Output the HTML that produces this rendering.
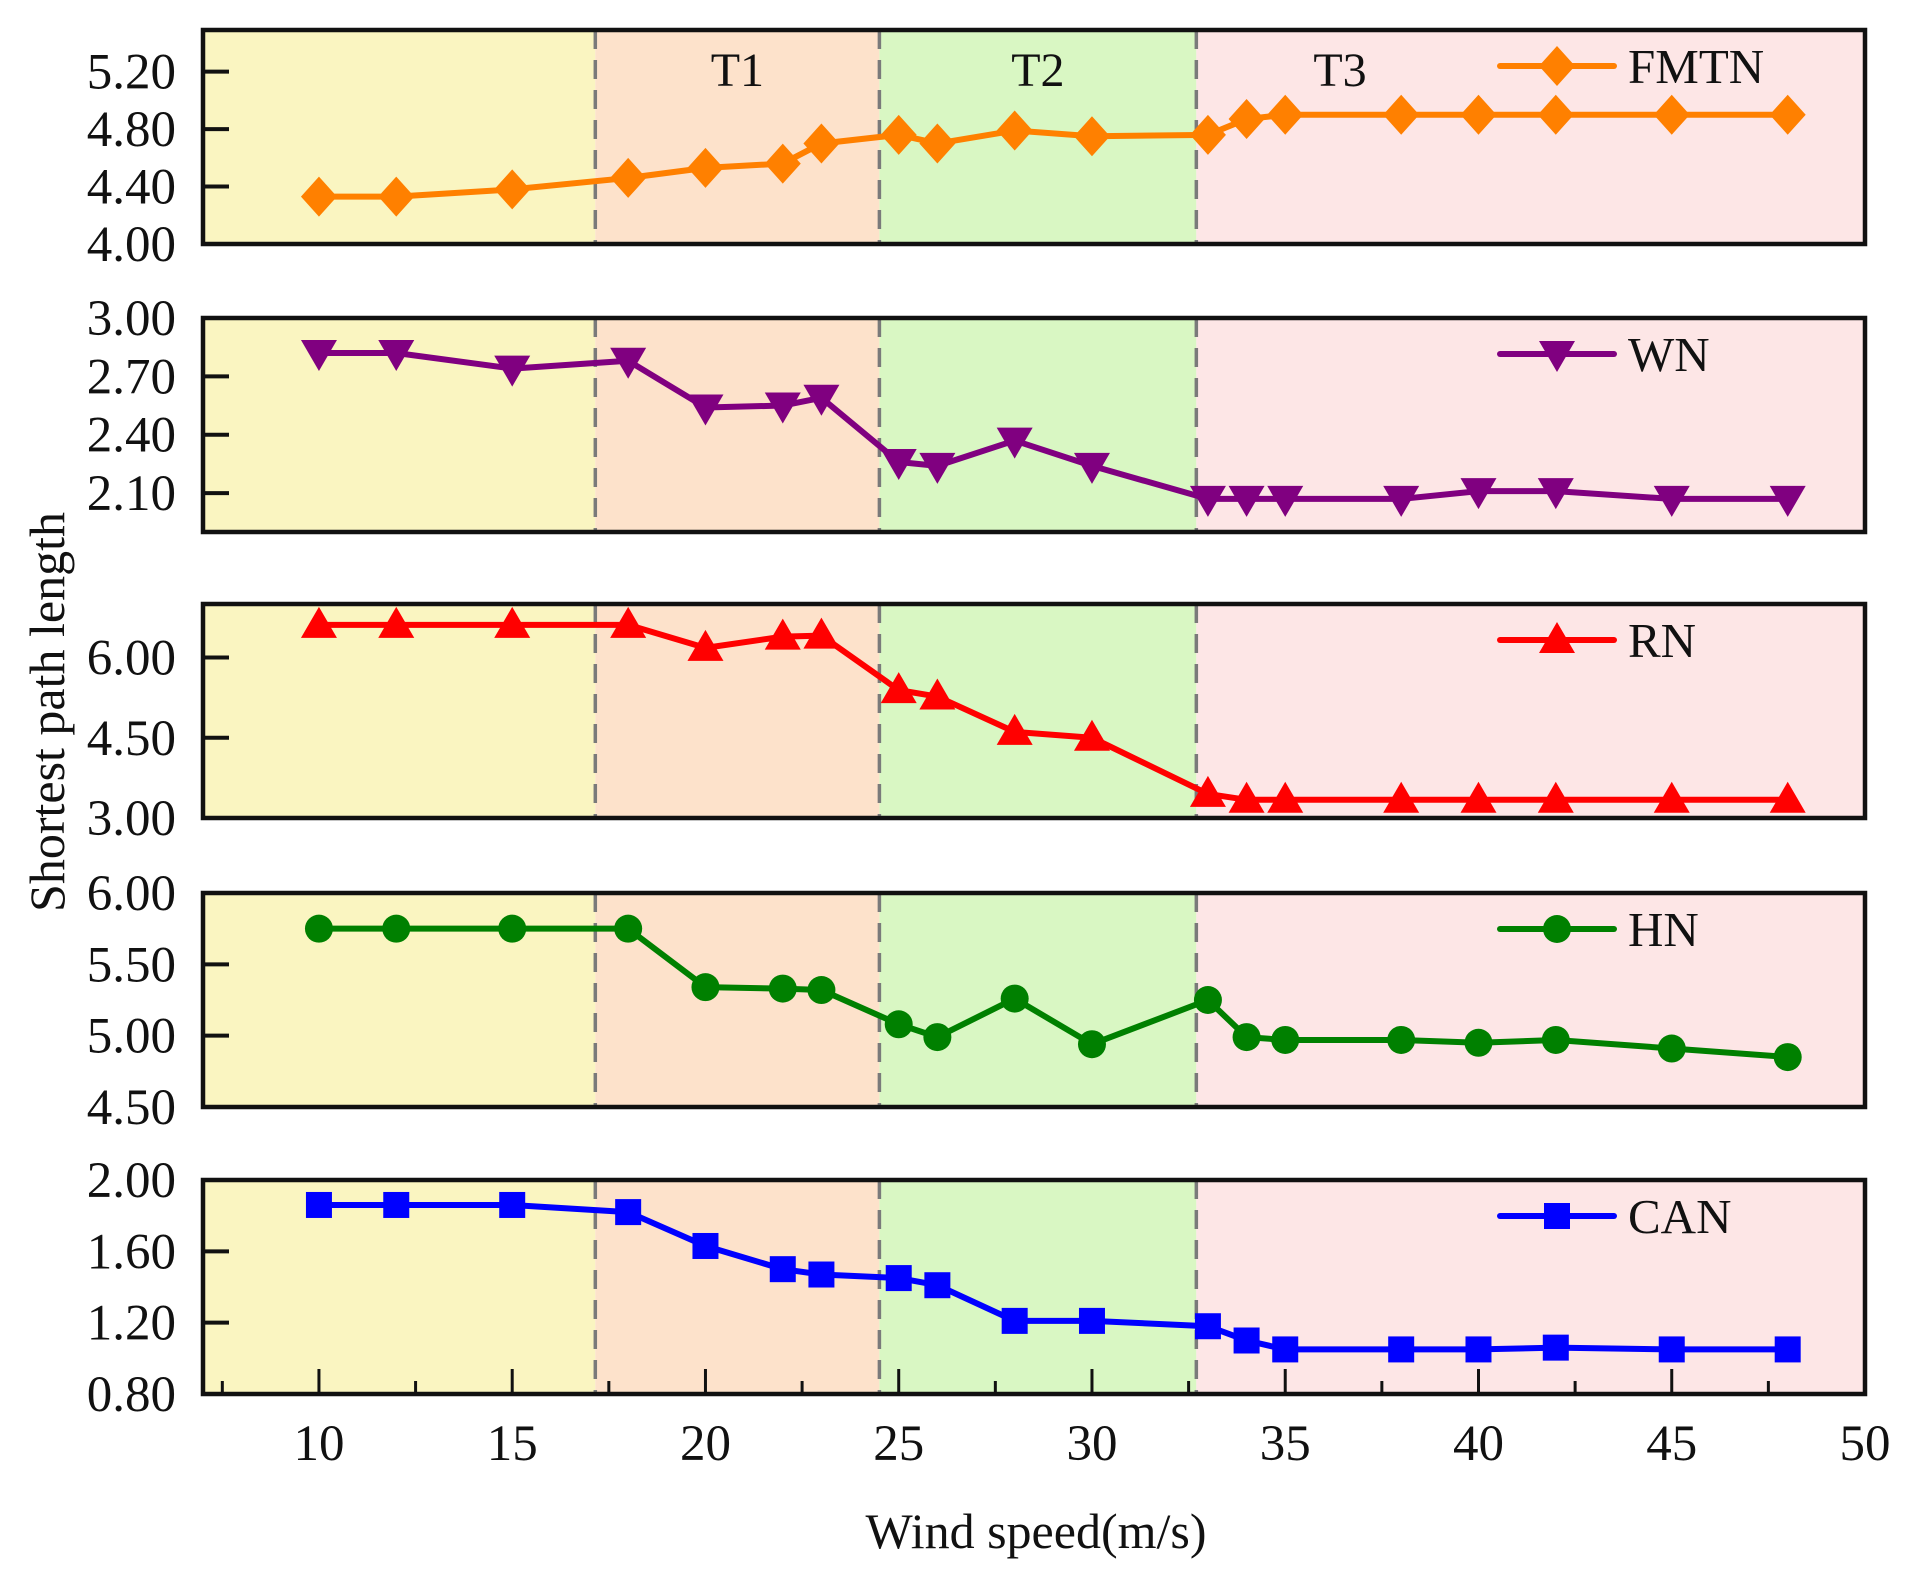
<!DOCTYPE html>
<html><head><meta charset="utf-8">
<style>
html,body{margin:0;padding:0;background:#fff;}
svg{display:block;}
text{font-family:"Liberation Serif",serif;fill:#111;}
</style></head>
<body>
<svg id="chart" width="1909" height="1586" viewBox="0 0 1909 1586" xmlns="http://www.w3.org/2000/svg"></svg>
<script>
const windSpeeds = [10,12,15,18,20,22,23,25,26,28,30,33,34,35,38,40,42,45,48];
const fmtnValues = [4.33,4.33,4.38,4.46,4.53,4.56,4.70,4.76,4.70,4.79,4.75,4.76,4.87,4.90,4.90,4.90,4.90,4.90,4.90];
const wnValues   = [2.82,2.82,2.74,2.78,2.54,2.55,2.59,2.26,2.24,2.37,2.24,2.07,2.07,2.07,2.07,2.11,2.11,2.07,2.07];
const rnValues   = [6.61,6.61,6.61,6.61,6.18,6.39,6.41,5.39,5.27,4.61,4.50,3.45,3.34,3.34,3.34,3.34,3.34,3.34,3.34];
const hnValues   = [5.75,5.75,5.75,5.75,5.34,5.33,5.32,5.08,4.99,5.26,4.94,5.25,4.99,4.97,4.97,4.95,4.97,4.91,4.85];
const canValues  = [1.86,1.86,1.86,1.82,1.63,1.50,1.47,1.45,1.41,1.21,1.21,1.18,1.10,1.05,1.05,1.05,1.06,1.05,1.05];
const seriesNames = ["FMTN","WN","RN","HN","CAN"];
const fmtnTicks = [4.00,4.40,4.80,5.20];
const wnTicks = [2.10,2.40,2.70,3.00];
const rnTicks = [3.00,4.50,6.00];
const hnTicks = [4.50,5.00,5.50,6.00];
const canTicks = [0.80,1.20,1.60,2.00];
const xTicks = [10,15,20,25,30,35,40,45,50];
const regionBounds = [7,17.15,24.5,32.7,50];
const regionLabels = ["","T1","T2","T3"];

const svg = document.getElementById('chart');
const NS = 'http://www.w3.org/2000/svg';
function mk(tag, attrs, parent){
  const e = document.createElementNS(NS, tag);
  for (const k in attrs) e.setAttribute(k, attrs[k]);
  (parent||svg).appendChild(e);
  return e;
}
const L = 203, R = 1865;
const xMin = 7, xMax = 50;
function xs(v){ return L + (v - xMin) / (xMax - xMin) * (R - L); }

const panels = [
  {vals:fmtnValues, ticks:fmtnTicks, dom:[4.0,5.49], top:30, color:'#ff8000', marker:'diamond', key:'fmtn'},
  {vals:wnValues, ticks:wnTicks, dom:[1.9,3.0], top:318, color:'#800080', marker:'tridown', key:'wn'},
  {vals:rnValues, ticks:rnTicks, dom:[3.0,7.0], top:604, color:'#ff0000', marker:'triup', key:'rn'},
  {vals:hnValues, ticks:hnTicks, dom:[4.5,6.0], top:893, color:'#008000', marker:'circle', key:'hn'},
  {vals:canValues, ticks:canTicks, dom:[0.8,2.0], top:1180, color:'#0000ff', marker:'square', key:'can'}
];
const PH = 214;
const regionColors = ['#faf5c1','#fde2cb','#d9f7c3','#fde6e6'];

function marker(type, cx, cy, color, g){
  let e;
  if (type==='diamond') e = mk('polygon',{points:`${cx},${cy-20} ${cx+18},${cy} ${cx},${cy+20} ${cx-18},${cy}`,fill:color},g);
  else if (type==='tridown') e = mk('polygon',{points:`${cx-18},${cy-13} ${cx+18},${cy-13} ${cx},${cy+18}`,fill:color},g);
  else if (type==='triup') e = mk('polygon',{points:`${cx-18},${cy+13} ${cx+18},${cy+13} ${cx},${cy-18}`,fill:color},g);
  else if (type==='circle') e = mk('circle',{cx:cx,cy:cy,r:14,fill:color},g);
  else e = mk('rect',{x:cx-13,y:cy-13,width:26,height:26,fill:color},g);
  return e;
}

panels.forEach((p, pi) => {
  const T = p.top, B = T + PH;
  const ys = v => B - (v - p.dom[0]) / (p.dom[1] - p.dom[0]) * PH;
  const g = mk('g',{});
  
  
  for (let i=0;i<4;i++){
    const r = mk('rect',{x:xs(regionBounds[i]),y:T,width:xs(regionBounds[i+1])-xs(regionBounds[i]),height:PH,fill:regionColors[i]},g);
    
    
  }
  for (let i=1;i<4;i++){
    const d = mk('line',{x1:xs(regionBounds[i]),x2:xs(regionBounds[i]),y1:T,y2:B,stroke:'#7a7a7a','stroke-width':3.5,'stroke-dasharray':'19,11'},g);
    
    
  }
  p.ticks.forEach(t => {
    const y = ys(t);
    mk('line',{x1:L,x2:L+26,y1:y,y2:y,stroke:'#111','stroke-width':4},g);
    const tx = mk('text',{x:176,y:y+17,'text-anchor':'end','font-size':51},g);
    tx.textContent = t.toFixed(2);
    
    
  });
  if (pi===4){
    for (let v=7.5; v<50; v+=2.5){
      const major = (v%5===0);
      mk('line',{x1:xs(v),x2:xs(v),y1:B,y2:B-(major?25:13),stroke:'#111','stroke-width':3},g);
    }
    xTicks.forEach(v => {
      const tx = mk('text',{x:xs(v),y:1460,'text-anchor':'middle','font-size':51},g);
      tx.textContent = v;
      
      
    });
  }
  const pts = windSpeeds.map((w,i)=>xs(w)+','+ys(p.vals[i])).join(' ');
  const line = mk('polyline',{points:pts,fill:'none',stroke:p.color,'stroke-width':6,'stroke-linejoin':'round'},g);
  
  
  windSpeeds.forEach((w,i)=>{
    const m = marker(p.marker, xs(w), ys(p.vals[i]), p.color, g);
    
    
  });
  const lg = mk('g',{},g);
  
  
  const ly = T + 36;
  mk('line',{x1:1500,x2:1614,y1:ly,y2:ly,stroke:p.color,'stroke-width':6,'stroke-linecap':'round'},lg);
  marker(p.marker, 1557, ly, p.color, lg);
  const lt = mk('text',{x:1628,y:ly+17,'font-size':49},lg);
  lt.textContent = seriesNames[pi];
  const f = mk('rect',{x:L,y:T,width:R-L,height:PH,fill:'none',stroke:'#111','stroke-width':4.5},g);
  
  
  if (pi===0){
    for (let i=1;i<4;i++){
      const cx = i===3 ? 1340 : (xs(regionBounds[i])+xs(regionBounds[i+1]))/2;
      const tx = mk('text',{x:cx,y:86,'text-anchor':'middle','font-size':48},g);
      tx.textContent = regionLabels[i];
      
      
    }
  }
});

const yt = mk('text',{x:0,y:0,'text-anchor':'middle','font-size':50,transform:'translate(64,712) rotate(-90)'});
yt.textContent = 'Shortest path length';


const xt = mk('text',{x:1036,y:1548,'text-anchor':'middle','font-size':50});
xt.textContent = 'Wind speed(m/s)';


</script>
</body></html>
